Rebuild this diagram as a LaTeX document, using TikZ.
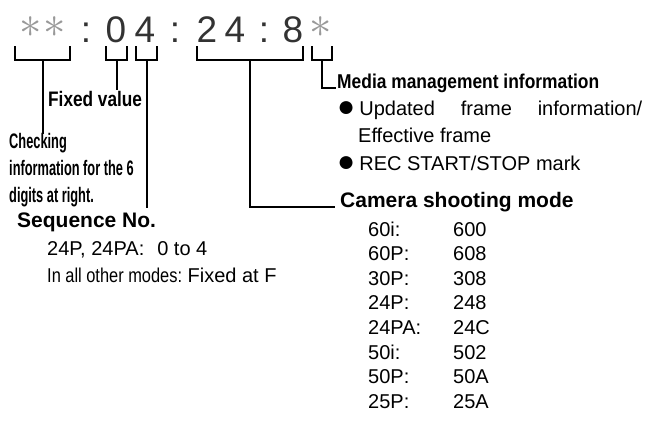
\documentclass[tikz,border=0pt]{standalone}
\usepackage{fontspec}
\setmainfont{Liberation Sans}
\usepackage{graphicx}
\usetikzlibrary{math}

\newcommand{\squeeze}[2][0.8]{\scalebox{#1}[1]{#2}}
\newcommand{\blt}{\raisebox{-1.5pt}{\scalebox{1.5}{●}}\hspace{4pt}}
\newcommand{\hdast}{\makebox[20pt]{\scalebox{1.8}{$\ast$}}}

\begin{document}
\begin{tikzpicture}[x=1pt,y=-1pt,
  hdchar/.style={inner sep=0pt, anchor=base, text=black!80, font=\fontsize{37}{37}\selectfont},
  hdstar/.style={inner sep=0pt, text=black!40, font=\fontsize{40}{40}\selectfont},
  brk/.style={line width=2pt, line cap=rect, line join=miter},
  lbl/.style={inner sep=0pt, anchor=base west, font=\fontsize{20}{20}\selectfont},
  lblb/.style={inner sep=0pt, anchor=base west, font=\fontsize{#1}{#1}\selectfont\bfseries}
]
\tikzmath{
\brtop=47; \brbot=60; \pitch=24.6;
}
\useasboundingbox (0,0) rectangle (651,424);

% time code
\node[hdstar] (st1) at (31,27) {\hdast};
\node[hdstar] (st2) at (55,27) {\hdast};
\foreach \x/\c [count=\i] in {86/:,116/0,145/4,175/:,207/2,235/4,264/:,293/8}
  \node[hdchar] (hd\i) at (\x,42) {\c};
\node[hdstar] (st3) at (321,27) {\hdast};

% brackets
\foreach \l/\r/\n in {15/70/chkb, 106/127/fixb, 136/157/seqb, 197/303/camb, 312/332/medb}{
  \draw[brk] (\l,\brtop) |- (\r,\brbot) -- (\r,\brtop);
  \coordinate (\n) at ({(\l+\r)/2},\brbot);
}

% left labels
\node[lblb=21] (fix) at (48,106) {\squeeze[0.82]{Fixed value}};
\node[lblb=21] (chk1) at (9,148) {\squeeze[0.61]{Checking}};
\node[lblb=21] (chk2) at (9,175) {\squeeze[0.61]{information for the 6}};
\node[lblb=21] (chk3) at (9,202) {\squeeze[0.61]{digits at right.}};
\node[lblb=21] (seq) at (17,227) {Sequence No.};
\node[lbl] (seq1) at (47,255) {24P, 24PA:\hspace{13pt}0 to 4};
\node[lbl] (seq2) at (47,282) {\squeeze[0.82]{In all other modes:} Fixed at F};

% right labels
\node[lblb=20] (med) at (337,88) {\squeeze[0.87]{Media management information}};
\node[lbl] (upd) at (337,115) {\blt\makebox[283pt][s]{Updated frame information/}};
\node[lbl] (eff) at (358,142) {Effective frame};
\node[lbl] (rec) at (337,170) {\blt REC START/STOP mark};
\node[lblb=21] (cam) at (340,207) {Camera shooting mode};
\foreach \m/\v [count=\i] in {60i/600, 60P/608, 30P/308, 24P/248, 24PA/24C, 50i/502, 50P/50A, 25P/25A}{
  \node[lbl] (mode\i) at (368,{236+(\i-1)*\pitch}) {\m:};
  \node[lbl] (code\i) at (453,{236+(\i-1)*\pitch}) {\v};
}

% leaders
\draw[brk] (chkb) -- (chkb |- chk1.north);
\draw[brk] (fixb) -- ([yshift=2pt]fixb |- fix.north);
\draw[brk] (seqb) -- ([yshift=5pt]seqb |- seq.north);
\draw[brk] (camb) |- ([xshift=-6pt]cam.base west);
\draw[brk] (medb) |- ([xshift=-2pt]med.base west);
\end{tikzpicture}
\end{document}
